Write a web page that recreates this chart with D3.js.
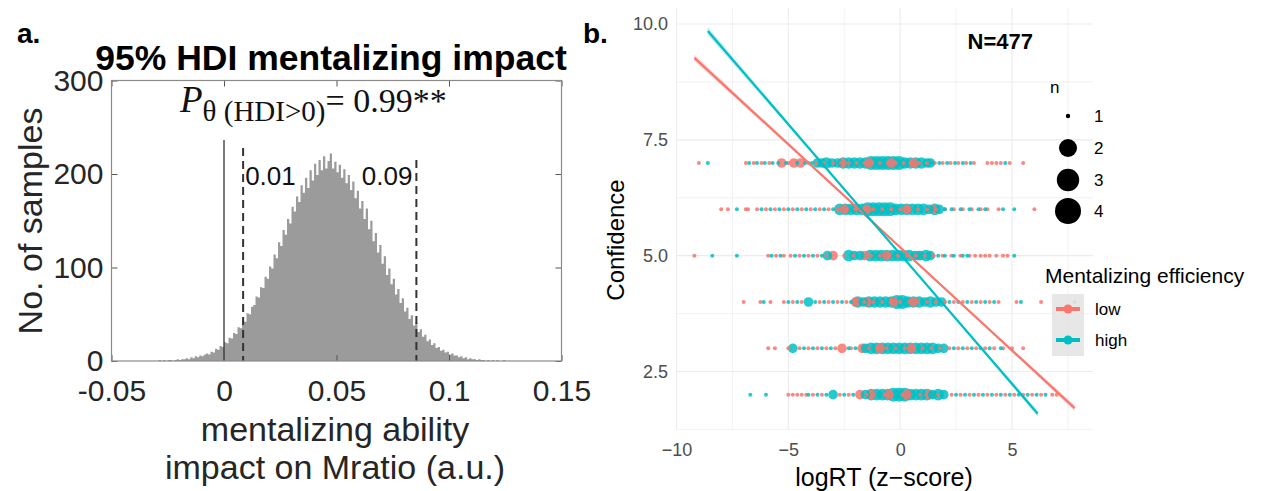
<!DOCTYPE html>
<html>
<head>
<meta charset="utf-8">
<script src="https://cdn.jsdelivr.net/npm/d3@7"></script>
<style>
  html, body { margin: 0; padding: 0; background: #ffffff; }
  svg { display: block; }
</style>
</head>
<body>
<svg id="fig" width="1266" height="491"></svg>
<script>
// ---------- Panel a: posterior samples of the mentalizing effect ----------
const histStart = -0.030;   // left edge of the first bin
const histStep = 0.001;     // bin width
const histCounts = [
  0, 1, 0, 1, 0, 1,
  1, 0, 1, 2, 1, 2, 2, 3, 2, 4,
  3, 5, 4, 6, 5, 7, 8, 7, 10, 9,
  13, 12, 16, 15, 20, 19, 25, 24, 30, 29,
  36, 35, 43, 42, 51, 50, 58, 60, 69, 68,
  79, 78, 90, 88, 101, 99, 114, 110, 127, 123,
  140, 135, 152, 147, 165, 160, 176, 170, 188, 180,
  196, 185, 204, 193, 211, 199, 215, 204, 219, 206,
  214, 222, 206, 213, 202, 210, 196, 205, 190, 199,
  183, 192, 174, 182, 163, 171, 152, 163, 141, 150,
  128, 137, 116, 124, 104, 112, 92, 99, 82, 88,
  71, 77, 62, 67, 53, 57, 45, 49, 38, 41,
  31, 34, 26, 28, 21, 23, 17, 19, 14, 15,
  11, 12, 9, 10, 7, 8, 6, 6, 4, 5,
  3, 4, 2, 3, 2, 2, 1, 2, 1, 1,
  0, 1, 0, 1, 0, 1, 0, 0, 1, 0, 0
];
const hdiBounds = [0.0085, 0.0855];
const hdiLabels = ["0.01", "0.09"];
const xTicksA = [-0.05, 0, 0.05, 0.1, 0.15];
const xTickLabelsA = ["-0.05", "0", "0.05", "0.1", "0.15"];
const yTicksA = [0, 100, 200, 300];
const yTickLabelsA = ["0", "100", "200", "300"];

// ---------- Panel b: confidence vs. log RT ----------
// A plain number is a single trial (n = 1); [x, n] marks n overlapping trials.
const confLevels = [7, 6, 5, 4, 3, 2];
const lowConf7 = [-9.0, -6.9, -6.55, -6.2, -5.85, -5.0, -4.1, -3.75, -3.4, -3.0, -2.65, -2.3, -1.95, -1.6, -1.25, -0.9, -0.55, -0.2, 0.15, 0.5, 0.85, 1.2, 1.55, 1.9, 2.25, 2.6, 2.95, 3.3, 3.9, 4.1, 4.3, 4.5, 4.9, 5.5,
  [-5.3, 2], [-4.75, 2], [-4.45, 2], [-2.6, 2], [-1.4, 2], [-0.4, 2], [0.6, 2]];
const highConf7 = [-8.6, -6.75, -6.4, -6.05, -5.7, -5.45, -5.1, -4.6, -4.25, -3.95, 1.45, 1.75, 2.1, 2.45, 2.8, 3.15, 4.7,
  [-3.7, 2], [-3.5, 2], [-3.3, 3], [-3.05, 2], [-2.8, 2], [-2.55, 3], [-2.3, 3], [-2.05, 3], [-1.8, 3], [-1.55, 3], [-1.3, 4], [-1.05, 4], [-0.8, 4], [-0.55, 4], [-0.3, 4], [-0.05, 4], [0.2, 3], [0.45, 3], [0.7, 3], [0.95, 3], [1.2, 2], [1.35, 2]];
const lowConf6 = [-8.0, -7.7, -6.9, -6.8, -6.4, -6.0, -5.6, -5.2, -4.8, -4.4, -4.0, -3.6, -3.2, -2.8, -2.4, -2.0, -1.6, -1.2, -0.8, -0.4, 0.0, 0.4, 0.8, 1.2, 1.6, 2.0, 2.4, 2.8, 3.2, 3.6, 3.9, 4.4, 6.0,
  [-2.5, 2], [-1.5, 2], [0.3, 2], [1.5, 2]];
const highConf6 = [-7.3, -6.2, -5.8, -5.4, -5.0, -4.6, -4.2, -3.8, -3.4, -3.0, 2.0, 2.3, 2.7, 3.1, 3.5, 3.8, 4.6, 5.1,
  [-2.7, 3], [-2.45, 3], [-2.2, 3], [-1.95, 3], [-1.7, 3], [-1.45, 4], [-1.2, 4], [-0.95, 4], [-0.7, 4], [-0.45, 4], [-0.2, 3], [0.05, 3], [0.3, 3], [0.55, 3], [0.8, 3], [1.05, 3], [1.3, 2], [1.55, 3], [1.75, 2]];
const lowConf5 = [-9.2, -5.9, -5.55, -5.2, -4.9, -4.5, -4.1, -3.7, -3.3, -2.5, -2.1, -1.3, -0.9, -0.5, -0.1, 0.3, 0.7, 1.1, 1.5, 1.9, 2.3, 2.7, 3.1, 3.35, 3.6, 3.8, 4.0, 4.3, 4.6, 4.8,
  [-3.0, 2], [-1.6, 2], [-0.6, 2], [0.8, 2]];
const highConf5 = [-8.4, -7.3, -5.75, -5.35, -4.7, -4.3, -3.9, -3.5, 1.7, 2.0, 2.4, 2.8, 3.0, 5.1,
  [-3.25, 2], [-2.3, 3], [-2.05, 2], [-1.8, 2], [-1.35, 3], [-1.1, 3], [-0.85, 3], [-0.6, 3], [-0.35, 3], [-0.1, 3], [0.15, 3], [0.4, 3], [0.65, 2], [0.9, 2], [1.15, 3], [1.35, 2]];
const lowConf4 = [-7.0, -6.25, -5.8, -5.2, -4.8, -4.4, -3.6, -3.2, -2.8, -2.4, -2.0, -1.6, -1.2, -0.8, -0.4, 0.0, 0.4, 0.8, 1.2, 1.6, 2.0, 2.4, 2.8, 3.2, 3.6, 4.0, 4.4, 5.2, 6.3, 7.8,
  [-2.0, 2], [-1.5, 2], [-0.3, 2], [0.6, 2]];
const highConf4 = [-6.1, -5.0, -4.6, -3.8, -3.4, -3.0, -2.6, -2.2, 2.2, 2.6, 3.0, 3.4, 3.8, 4.2, 5.4,
  [-4.1, 2], [-1.9, 3], [-1.65, 2], [-1.4, 3], [-1.15, 3], [-0.9, 3], [-0.65, 3], [-0.4, 3], [-0.15, 4], [0.1, 4], [0.35, 3], [0.6, 3], [0.85, 3], [1.1, 2], [1.35, 3], [1.6, 2], [1.85, 2]];
const lowConf3 = [-5.9, -5.6, -5.0, -4.5, -4.1, -3.7, -3.3, -2.9, -2.2, -1.4, -1.0, -0.6, -0.2, 0.2, 0.6, 1.0, 1.4, 1.8, 2.2, 2.6, 3.0, 3.4, 3.8, 4.2, 4.6, 5.0, 5.5,
  [-2.6, 2], [-1.7, 2], [-0.9, 2], [0.5, 2]];
const highConf3 = [-4.3, -3.9, -3.5, -3.1, -2.3, -2.0, 2.4, 2.8, 3.2, 3.6, 4.0, 4.5,
  [-4.8, 2], [-1.55, 2], [-1.3, 3], [-1.05, 3], [-0.8, 3], [-0.55, 3], [-0.3, 3], [-0.05, 3], [0.2, 3], [0.45, 3], [0.7, 3], [0.95, 3], [1.2, 3], [1.45, 3], [1.7, 2], [1.95, 2]];
const lowConf2 = [-5.0, -4.8, -4.6, -4.4, -4.2, -3.9, -3.5, -2.7, -2.3, -1.5, -0.7, 0.1, 0.9, 1.7, 2.3, 2.7, 3.1, 3.5, 3.9, 4.3, 4.7, 5.1, 5.5, 5.9, 6.3, 6.8, 7.0,
  [-1.8, 2], [-1.3, 2], [-0.5, 2], [0.3, 2], [1.3, 2]];
const highConf2 = [-6.7, -6.0, -4.1, -3.7, -3.3, -2.5, -2.1, 2.5, 2.9, 3.3, 3.7, 4.1, 4.5, 4.9, 5.3, 5.7, 6.1, 6.5,
  [-3.0, 2], [-1.55, 2], [-1.3, 3], [-1.05, 3], [-0.8, 3], [-0.55, 3], [-0.3, 4], [-0.05, 4], [0.2, 4], [0.45, 3], [0.7, 3], [0.95, 3], [1.2, 3], [1.45, 2], [1.7, 3], [1.95, 2]];
const lowRows = [lowConf7, lowConf6, lowConf5, lowConf4, lowConf3, lowConf2];
const highRows = [highConf7, highConf6, highConf5, highConf4, highConf3, highConf2];

// Linear fits (end points) and half-widths of their confidence bands
const lowLine = [[-9.2, 9.27], [7.8, 1.71]];
const highLine = [[-8.6, 9.85], [6.15, 1.59]];
const lowBand = [[-9.2, 0.07], [-4, 0.03], [0.5, 0.015], [4, 0.03], [7.8, 0.06]];
const highBand = [[-8.6, 0.08], [-4, 0.035], [0, 0.015], [3, 0.03], [6.15, 0.06]];

const groupNames = ["low", "high"];
const sizeLevels = [1, 2, 3, 4];
const xTicksB = [-10, -5, 0, 5];
const xTickLabelsB = ["\u221210", "\u22125", "0", "5"];
const yTicksB = [2.5, 5, 7.5, 10];
const yTickLabelsB = ["2.5", "5.0", "7.5", "10.0"];
const sampleSize = "N=477";

// ======================================================================
const svg = d3.select("#fig");
svg.append("rect").attr("width", 1266).attr("height", 491).attr("fill", "#ffffff");

const SANS = "'Liberation Sans', Arial, Helvetica, sans-serif";
const SERIF = "'Liberation Serif', 'Times New Roman', serif";

// ---------------- Panel a ----------------
const A = { left: 111.5, right: 561.5, top: 80.5, bottom: 361 };
const xA = d3.scaleLinear().domain([-0.05, 0.15]).range([A.left, A.right]);
const yA = d3.scaleLinear().domain([0, 300]).range([A.bottom, A.top]);
const gA = svg.append("g");

// histogram drawn as one stepped outline so adjacent bins merge
const bins = histCounts.map((c, i) => [histStart + i * histStep, c]);
bins.push([histStart + histCounts.length * histStep, 0]);
gA.append("path").datum(bins)
  .attr("d", d3.area().curve(d3.curveStepAfter)
    .x(d => xA(d[0])).y0(yA(0)).y1(d => yA(d[1])))
  .attr("fill", "#9b9b9b");

// zero line and HDI bounds
gA.append("line")
  .attr("x1", xA(0)).attr("x2", xA(0))
  .attr("y1", 140).attr("y2", yA(0))
  .attr("stroke", "#333").attr("stroke-width", 1.3);
gA.append("g").selectAll("line").data(hdiBounds).join("line")
  .attr("x1", d => xA(d)).attr("x2", d => xA(d))
  .attr("y1", (d, i) => i === 0 ? 148 : 160).attr("y2", yA(0))
  .attr("stroke", "#333").attr("stroke-width", 2)
  .attr("stroke-dasharray", "8,5");
gA.append("g").selectAll("text").data(hdiBounds).join("text")
  .attr("x", (d, i) => i === 0 ? xA(d) + 2 : xA(d) - 4)
  .attr("y", 185)
  .attr("text-anchor", (d, i) => i === 0 ? "start" : "end")
  .attr("font-family", SANS).attr("font-size", 26).attr("fill", "#111")
  .text((d, i) => hdiLabels[i]);

// axes with inward ticks (box style)
const tickFont = g => g.selectAll("text").attr("font-family", SANS).attr("font-size", 30).attr("fill", "#262626");
const axStyle = g => { g.select(".domain").remove(); g.selectAll(".tick line").attr("stroke", "#555"); };
gA.append("g").attr("transform", `translate(0,${A.bottom})`)
  .call(d3.axisBottom(xA).tickValues(xTicksA).tickSizeInner(-6).tickSizeOuter(0).tickPadding(19)
    .tickFormat((d, i) => xTickLabelsA[i]))
  .call(axStyle).call(tickFont);
gA.append("g").attr("transform", `translate(0,${A.top})`)
  .call(d3.axisTop(xA).tickValues(xTicksA).tickSizeInner(-6).tickSizeOuter(0).tickFormat(""))
  .call(axStyle);
gA.append("g").attr("transform", `translate(${A.left},0)`)
  .call(d3.axisLeft(yA).tickValues(yTicksA).tickSizeInner(-6).tickSizeOuter(0).tickPadding(8)
    .tickFormat((d, i) => yTickLabelsA[i]))
  .call(axStyle).call(tickFont);
gA.append("g").attr("transform", `translate(${A.right},0)`)
  .call(d3.axisRight(yA).tickValues(yTicksA).tickSizeInner(-6).tickSizeOuter(0).tickFormat(""))
  .call(axStyle);
gA.append("rect")
  .attr("x", A.left).attr("y", A.top)
  .attr("width", A.right - A.left).attr("height", A.bottom - A.top)
  .attr("fill", "none").attr("stroke", "#8a8a8a").attr("stroke-width", 1.2);

// titles
gA.append("text").attr("x", 17).attr("y", 43)
  .attr("font-family", SANS).attr("font-weight", "bold").attr("font-size", 28).text("a.");
gA.append("text").attr("x", 331).attr("y", 70).attr("text-anchor", "middle")
  .attr("font-family", SANS).attr("font-weight", "bold").attr("font-size", 35.5)
  .text("95% HDI mentalizing impact");
const pTxt = gA.append("text").attr("x", 180).attr("y", 112)
  .attr("font-family", SERIF).attr("font-size", 34).attr("fill", "#111");
pTxt.append("tspan").attr("font-style", "italic").attr("font-size", 37).text("P");
pTxt.append("tspan").attr("font-size", 29).attr("dy", 9).text("\u03b8 (HDI>0)");
pTxt.append("tspan").attr("dy", -9).text("= 0.99**");

gA.append("text").attr("transform", "translate(42,221) rotate(-90)")
  .attr("text-anchor", "middle").attr("font-family", SANS).attr("font-size", 34).attr("fill", "#262626")
  .text("No. of samples");
gA.append("text").attr("x", 335).attr("y", 441).attr("text-anchor", "middle")
  .attr("font-family", SANS).attr("font-size", 34).attr("fill", "#262626").text("mentalizing ability");
gA.append("text").attr("x", 335).attr("y", 479).attr("text-anchor", "middle")
  .attr("font-family", SANS).attr("font-size", 34).attr("fill", "#262626").text("impact on Mratio (a.u.)");

// ---------------- Panel b ----------------
const B = { left: 676, right: 1093, top: 8, bottom: 430 };
const xB = d3.scaleLinear().domain([-10, 5]).range([676.5, 1012]);
const yB = d3.scaleLinear().domain([2.5, 10]).range([371.5, 24]);
const color = d3.scaleOrdinal().domain(groupNames).range(["#F8766D", "#00BFC4"]);
const rPlot = d3.scaleOrdinal().domain(sizeLevels).range([2.0, 4.8, 5.8, 7]);
const rLegend = d3.scaleOrdinal().domain(sizeLevels).range([2.2, 9, 11.2, 13]);
const gB = svg.append("g");

// grid
const gridX = d3.range(-10, 8, 2.5);
const gridY = d3.range(1.25, 10.4, 1.25);
gB.append("g").selectAll("line").data(gridX).join("line")
  .attr("x1", d => xB(d)).attr("x2", d => xB(d)).attr("y1", B.top).attr("y2", B.bottom)
  .attr("stroke", "#ececec").attr("stroke-width", d => d % 5 === 0 ? 1.1 : 0.7);
gB.append("g").selectAll("line").data(gridY).join("line")
  .attr("x1", B.left).attr("x2", B.right).attr("y1", d => yB(d)).attr("y2", d => yB(d))
  .attr("stroke", "#ececec").attr("stroke-width", d => d % 2.5 === 0 ? 1.1 : 0.7);

// points
const pts = [];
confLevels.forEach((c, ri) => {
  [lowRows[ri], highRows[ri]].forEach((row, gi) => {
    row.forEach(p => {
      const x = Array.isArray(p) ? p[0] : p;
      const n = Array.isArray(p) ? p[1] : 1;
      pts.push({ x, conf: c, n, group: groupNames[gi] });
    });
  });
});
pts.sort((a, b) => b.n - a.n);
gB.append("g").selectAll("circle").data(pts).join("circle")
  .attr("cx", d => xB(d.x)).attr("cy", d => yB(d.conf))
  .attr("r", d => rPlot(d.n))
  .attr("fill", d => color(d.group)).attr("fill-opacity", 0.85);

// fitted lines with confidence ribbons
const fits = [
  { group: "low", line: lowLine, band: lowBand },
  { group: "high", line: highLine, band: highBand }
];
fits.forEach(f => {
  const [p0, p1] = f.line;
  const yAt = x => p0[1] + (p1[1] - p0[1]) * (x - p0[0]) / (p1[0] - p0[0]);
  const area = d3.area().curve(d3.curveMonotoneX)
    .x(d => xB(d[0])).y0(d => yB(yAt(d[0]) - d[1])).y1(d => yB(yAt(d[0]) + d[1]));
  gB.append("path").datum(f.band).attr("d", area)
    .attr("fill", color(f.group)).attr("fill-opacity", 0.3);
  gB.append("line")
    .attr("x1", xB(p0[0])).attr("y1", yB(p0[1])).attr("x2", xB(p1[0])).attr("y2", yB(p1[1]))
    .attr("stroke", color(f.group)).attr("stroke-width", 2.2);
});

// axes
const tickFontB = g => g.selectAll("text").attr("font-family", SANS).attr("font-size", 18).attr("fill", "#4d4d4d");
gB.append("g").attr("transform", `translate(0,${B.bottom})`)
  .call(d3.axisBottom(xB).tickValues(xTicksB).tickSize(0).tickPadding(13)
    .tickFormat((d, i) => xTickLabelsB[i]))
  .call(g => g.select(".domain").remove()).call(tickFontB);
gB.append("g").attr("transform", `translate(${B.left},0)`)
  .call(d3.axisLeft(yB).tickValues(yTicksB).tickSize(0).tickPadding(8)
    .tickFormat((d, i) => yTickLabelsB[i]))
  .call(g => g.select(".domain").remove()).call(tickFontB);

gB.append("text").attr("x", 583).attr("y", 43)
  .attr("font-family", SANS).attr("font-weight", "bold").attr("font-size", 28).text("b.");
gB.append("text").attr("x", 1033).attr("y", 49).attr("text-anchor", "end")
  .attr("font-family", SANS).attr("font-weight", "bold").attr("font-size", 22).text(sampleSize);
gB.append("text").attr("transform", "translate(624,240) rotate(-90)")
  .attr("text-anchor", "middle").attr("font-family", SANS).attr("font-size", 24).text("Confidence");
gB.append("text").attr("x", 884).attr("y", 486).attr("text-anchor", "middle")
  .attr("font-family", SANS).attr("font-size", 25).text("logRT (z\u2212score)");

// size legend
const legN = gB.append("g");
legN.append("text").attr("x", 1050).attr("y", 93)
  .attr("font-family", SANS).attr("font-size", 17).text("n");
const sizeY = [116, 148, 180, 211];
sizeLevels.forEach((n, i) => {
  legN.append("circle").attr("cx", 1068).attr("cy", sizeY[i]).attr("r", rLegend(n)).attr("fill", "#000");
  legN.append("text").attr("x", 1094).attr("y", sizeY[i]).attr("dy", "0.35em")
    .attr("font-family", SANS).attr("font-size", 17).text(n);
});

// group legend
const legG = gB.append("g");
legG.append("text").attr("x", 1045).attr("y", 283)
  .attr("font-family", SANS).attr("font-size", 21).text("Mentalizing efficiency");
legG.append("rect").attr("x", 1052).attr("y", 294).attr("width", 32).attr("height", 62)
  .attr("fill", "#e3e3e3").attr("fill-opacity", 0.85);
const keyY = [309, 340];
groupNames.forEach((g, i) => {
  legG.append("line").attr("x1", 1056).attr("x2", 1080).attr("y1", keyY[i]).attr("y2", keyY[i])
    .attr("stroke", color(g)).attr("stroke-width", 4);
  legG.append("circle").attr("cx", 1068).attr("cy", keyY[i]).attr("r", 4.5).attr("fill", color(g));
  legG.append("text").attr("x", 1095).attr("y", keyY[i]).attr("dy", "0.35em")
    .attr("font-family", SANS).attr("font-size", 17).text(g);
});
</script>
</body>
</html>
